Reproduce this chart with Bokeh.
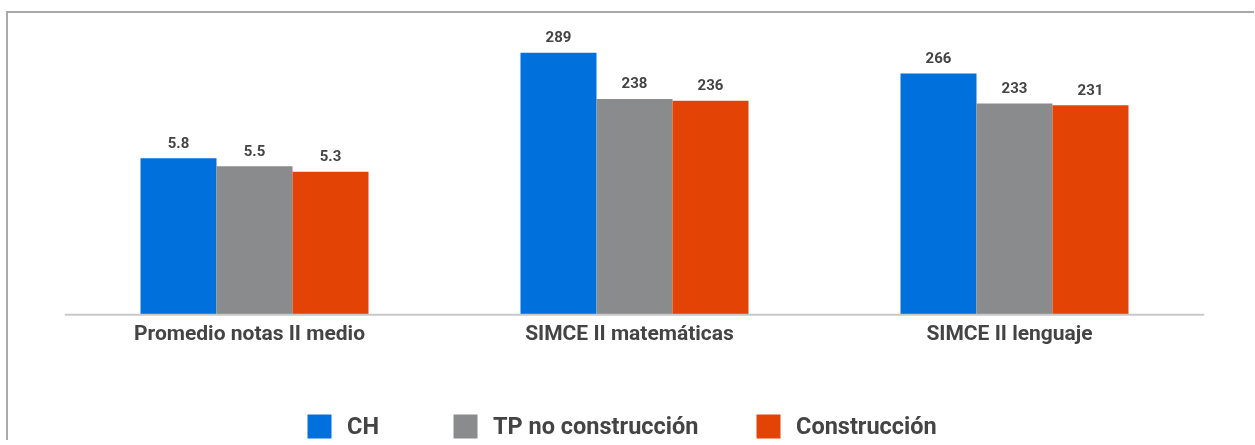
from bokeh.plotting import figure
from bokeh.models import ColumnDataSource, FactorRange, Range1d, Legend, LegendItem, Span
from bokeh.transform import dodge
from bokeh.core.properties import value
from bokeh.embed import file_html
from bokeh.resources import INLINE

# ---------------- data ----------------
categories = ["Promedio notas II medio", "SIMCE II matemáticas", "SIMCE II lenguaje"]
series = ["CH", "TP no construcción", "Construcción"]
ch = [5.8, 289, 266]
tp_no_construccion = [5.5, 238, 233]
construccion = [5.3, 236, 231]
colors = ["#0070dd", "#898b8d", "#e34304"]

values = [ch, tp_no_construccion, construccion]
offsets = [-0.2, 0.0, 0.2]
legend_x = [240, 386, 689]

FONT = value("Roboto")
TEXT_COLOR = "#444444"
FRAME_LINE = "linear-gradient(#a9a9a9, #a9a9a9)"

p = figure(
    x_range=FactorRange(factors=categories),
    y_range=Range1d(-138.6, 322.3),
    width=1248, height=429,
    output_backend="svg", toolbar_location=None,
    x_axis_location=None, y_axis_location=None,
    min_border_left=58, min_border_right=50,
    min_border_top=11, min_border_bottom=0,
    outline_line_color=None,
    background_fill_color=None, border_fill_color=None,
    styles={
        "position": "fixed",
        "top": "11px",
        "left": "6px",
        "background-image": f"{FRAME_LINE}, {FRAME_LINE}",
        "background-size": "100% 2px, 2px 100%",
        "background-position": "0 0, 0 0",
        "background-repeat": "no-repeat",
    },
)
p.extra_y_ranges = {"notas": Range1d(-4.66, 10.83)}

# baseline of the category axis
p.add_layout(Span(location=0, dimension="width", line_color="#c8c8c8", line_width=2))

def fmt(v):
    return f"{v:.1f}" if v < 10 else f"{v:.0f}"

for i, name in enumerate(series):
    vals = values[i]
    renderers = []
    for cats, vs, rng in (([categories[0]], [vals[0]], "notas"),
                          (categories[1:], vals[1:], "default")):
        src = ColumnDataSource(dict(cat=cats, val=vs, lab=[fmt(v) for v in vs]))
        r = p.vbar(x=dodge("cat", offsets[i], range=p.x_range), top="val", bottom=0,
                   width=0.2, source=src, fill_color=colors[i], line_color=None,
                   y_range_name=rng)
        renderers.append(r)
        p.text(x=dodge("cat", offsets[i], range=p.x_range), y="val", text="lab",
               source=src, y_range_name=rng, y_offset=-16,
               text_align="center", text_baseline="middle",
               text_font=FONT, text_font_style="bold", text_font_size="15px",
               text_color=TEXT_COLOR)
    leg = Legend(items=[LegendItem(label=name, renderers=[renderers[1]])],
                 location=(legend_x[i], -1), orientation="horizontal",
                 glyph_width=30, glyph_height=30, label_height=30, label_standoff=13,
                 label_text_font="Roboto", label_text_font_style="bold",
                 label_text_font_size="23.5px", label_text_color=TEXT_COLOR,
                 padding=0, margin=0, border_line_color=None,
                 background_fill_alpha=0)
    p.add_layout(leg)

# category labels under the baseline
cat_src = ColumnDataSource(dict(cat=categories, base=[0] * len(categories)))
p.text(x="cat", y="base", text="cat", source=cat_src, x_offset=-5, y_offset=18,
       text_align="center", text_baseline="middle",
       text_font=FONT, text_font_style="bold", text_font_size="21px",
       text_color=TEXT_COLOR)

p.grid.grid_line_color = None

open("out.html", "w").write(file_html(p, INLINE))
